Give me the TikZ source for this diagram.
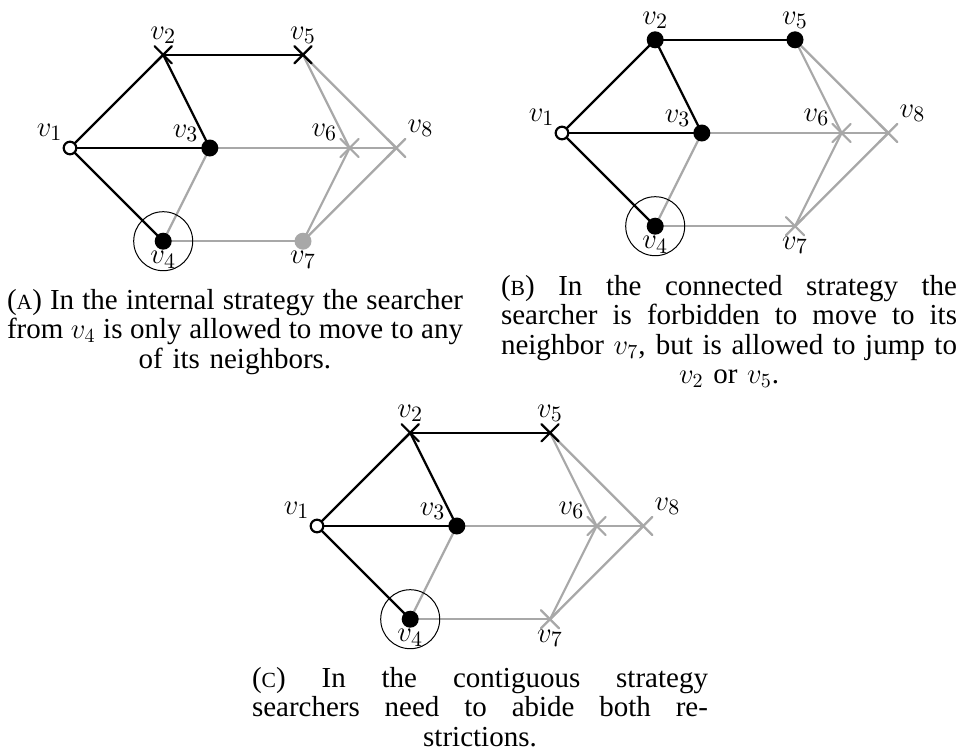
\documentclass[tikz,border=0pt]{standalone}
\usepackage{fontspec}
\setmainfont{Liberation Serif}
\usetikzlibrary{shapes.misc, backgrounds}

\definecolor{lightgrey}{gray}{0.66}
\def\capw{228pt}
\newcommand{\sclabel}[1]{{\fontsize{10.8}{12}\selectfont #1}}
\newcommand{\fullline}[1]{\leavevmode
  \hbox to \capw{\spaceskip=0.25em plus 1fil minus 0.08em
                 \xspaceskip=\spaceskip #1}}

\tikzset{
  vtx/.style={circle, inner sep=0pt, minimum size=8.5pt},
  openvtx/.style={vtx, draw, fill=white, line width=1.1pt, minimum size=6.3pt},
  guardvtx/.style={vtx, fill=black},
  greyvtx/.style={vtx, fill=lightgrey},
  crossvtx/.style={cross out, draw, line width=1.1pt, inner sep=0pt, minimum size=7.5pt},
  greycross/.style={crossvtx, draw=lightgrey, minimum size=8pt},
  guardring/.style={circle, draw, line width=0.5pt, inner sep=0pt, minimum size=29.5pt},
  lbl/.style={font=\fontsize{15}{17}\selectfont, inner sep=1pt},
  tree/.style={line width=1.1pt},
  rest/.style={line width=1.1pt, lightgrey},
  capt/.style={text width=\capw, align=center, inner sep=0pt, anchor=base,
               font=\fontsize{14.5}{14.75}\selectfont}
}

% one copy of the graph: #1 prefix, #2 origin (v1), #3 style of v2 and v5, #4 style of v7
\newcommand{\searchgraph}[4]{%
  \begin{scope}[shift={#2}, x=46.6pt, y=46.6pt]
    \node[openvtx, label={[lbl]above left:$v_1$}] (#1-1) at (0,0) {};
    \node[#3, label={[lbl]above:$v_2$}] (#1-2) at (1,1) {};
    \node[guardvtx, label={[lbl,label distance=0.5pt]155:$v_3$}] (#1-3) at (1.5,0) {};
    \node[guardvtx, label={[lbl,label distance=-0.5pt]below:$v_4$}] (#1-4) at (1,-1) {};
    \node[#3, label={[lbl]above:$v_5$}] (#1-5) at (2.5,1) {};
    \node[greycross, label={[lbl,label distance=0.5pt]155:$v_6$}] (#1-6) at (3,0) {};
    \node[#4, label={[lbl,label distance=-0.5pt]below:$v_7$}] (#1-7) at (2.5,-1) {};
    \node[greycross, label={[lbl]above right:$v_8$}] (#1-8) at (3.5,0) {};
    \node[guardring] (#1-r) at (#1-4) {};
    \begin{scope}[on background layer]
      \foreach \src/\dst in {1/2,1/3,1/4,2/3,2/5}
        \draw[tree] (#1-\src.center) -- (#1-\dst.center);
      \foreach \src/\dst in {3/4,3/6,4/7,5/6,5/8,6/7,6/8,7/8}
        \draw[rest] (#1-\src.center) -- (#1-\dst.center);
    \end{scope}
  \end{scope}}

\begin{document}
\begin{tikzpicture}[line cap=round, line join=round]
  \useasboundingbox (0,0) rectangle (481.5pt,-377.5pt);
  % (a) internal
  \searchgraph{a}{(35pt,-74pt)}{crossvtx}{greyvtx}
  \node[capt] (capa) at (117.5pt,-154.5pt)
    {\fullline{(\sclabel{A}) In the internal strategy the searcher}\\
     \fullline{from $v_4$ is only allowed to move to any}\\
     of its neighbors.};
  % (b) connected
  \searchgraph{b}{(281pt,-66.5pt)}{guardvtx}{greycross}
  \node[capt] (capb) at (364.5pt,-147.5pt)
    {\fullline{(\sclabel{B}) In the connected strategy the}\\
     \fullline{searcher is forbidden to move to its}\\
     \fullline{neighbor $v_7$, but is allowed to jump to}\\
     $v_2$ or $v_5$.};
  % (c) contiguous
  \searchgraph{c}{(158.5pt,-263pt)}{crossvtx}{greycross}
  \node[capt] (capc) at (240pt,-343.5pt)
    {\fullline{(\sclabel{C}) In the contiguous strategy}\\
     \fullline{searchers need to abide both re-}\\
     strictions.};
\end{tikzpicture}
\end{document}
